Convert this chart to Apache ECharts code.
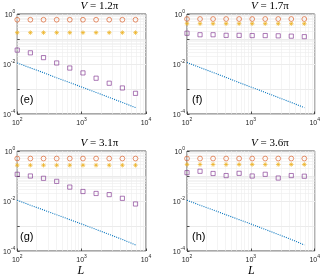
<!DOCTYPE html>
<html><head><meta charset="utf-8">
<script src="https://cdn.jsdelivr.net/npm/echarts@6/dist/echarts.min.js"></script>
<style>html,body{margin:0;padding:0;background:#fff}#c{width:323px;height:275px}</style>
</head><body><div id="c"></div>
<script>
// ---- data ----
const L = [100, 160, 256, 410, 655, 1049, 1678, 2684, 4295, 6872];
const panelLabels = ['(e)', '(f)', '(g)', '(h)'];
const panelV = ['1.2π', '1.7π', '3.1π', '3.6π'];
const xTicks = [100, 1000, 10000];
const yTicks = [1e-4, 1e-2, 1];
const minorX = [200,300,400,500,600,700,800,900,2000,3000,4000,5000,6000,7000,8000,9000];
const minorY = [2e-4,3e-4,4e-4,5e-4,6e-4,7e-4,8e-4,9e-4,2e-3,3e-3,4e-3,5e-3,6e-3,7e-3,8e-3,9e-3,
                2e-2,3e-2,4e-2,5e-2,6e-2,7e-2,8e-2,9e-2,0.2,0.3,0.4,0.5,0.6,0.7,0.8,0.9];

const circE = [0.59, 0.59, 0.59, 0.59, 0.59, 0.59, 0.59, 0.59, 0.59, 0.59];
const starE = [0.18, 0.18, 0.18, 0.18, 0.18, 0.18, 0.18, 0.18, 0.18, 0.18];
const sqE   = [0.036, 0.028, 0.018, 0.011, 6.9e-3, 4.4e-3, 2.7e-3, 1.7e-3, 1.1e-3, 6.7e-4];
const lineE = [1.1e-2, 7e-3, 4.5e-3, 2.8e-3, 1.8e-3, 1.15e-3, 7.3e-4, 4.6e-4, 2.9e-4, 1.8e-4];

const circF = [0.63, 0.63, 0.63, 0.63, 0.63, 0.63, 0.63, 0.63, 0.63, 0.63];
const starF = [0.41, 0.41, 0.41, 0.41, 0.41, 0.41, 0.41, 0.41, 0.41, 0.41];
const sqF   = [0.17, 0.148, 0.148, 0.14, 0.14, 0.137, 0.137, 0.134, 0.13, 0.124];
const lineF = [1.15e-2, 7.2e-3, 4.6e-3, 2.9e-3, 1.8e-3, 1.15e-3, 7.3e-4, 4.6e-4, 2.9e-4, 1.8e-4];

const circG = [0.5, 0.5, 0.5, 0.5, 0.5, 0.5, 0.5, 0.5, 0.5, 0.5];
const starG = [0.27, 0.27, 0.27, 0.27, 0.27, 0.27, 0.27, 0.27, 0.27, 0.27];
const sqG   = [0.117, 0.1, 0.081, 0.061, 0.036, 0.024, 0.02, 0.018, 0.0128, 0.0076];
const lineG = [1.07e-2, 6.8e-3, 4.4e-3, 2.8e-3, 1.8e-3, 1.15e-3, 7.3e-4, 4.6e-4, 2.9e-4, 1.75e-4];

const circH = [0.5, 0.5, 0.5, 0.5, 0.5, 0.5, 0.5, 0.5, 0.5, 0.5];
const starH = [0.29, 0.29, 0.29, 0.29, 0.29, 0.29, 0.29, 0.29, 0.29, 0.29];
const sqH   = [0.136, 0.155, 0.126, 0.104, 0.128, 0.1, 0.117, 0.083, 0.104, 0.098];
const lineH = [1.07e-2, 6.8e-3, 4.4e-3, 2.8e-3, 1.8e-3, 1.15e-3, 7.3e-4, 4.6e-4, 2.9e-4, 1.75e-4];

const panels = [
  {circ: circE, star: starE, sq: sqE, line: lineE},
  {circ: circF, star: starF, sq: sqF, line: lineF},
  {circ: circG, star: starG, sq: sqG, line: lineG},
  {circ: circH, star: starH, sq: sqH, line: lineH}
];

// ---- layout / style ----
const layout = [
  {left: 15, top: 14, width: 131, height: 100},
  {left: 187, top: 14, width: 128, height: 100},
  {left: 15, top: 151, width: 131, height: 100},
  {left: 187, top: 151, width: 128, height: 100}
];
const AX = '#262626';
const C_BLUE = '#0072BD', C_ORANGE = '#D95319', C_YELLOW = '#EDB120', C_PURPLE = '#7E2F8E';
const starPath = 'path://M5,0L5,10M0,5L10,5M1.5,1.5L8.5,8.5M8.5,1.5L1.5,8.5';

const rich = {
  b: {fontSize: 7, fontFamily: 'Liberation Sans', color: AX, lineHeight: 10, verticalAlign: 'bottom'},
  s: {fontSize: 5, fontFamily: 'Liberation Sans', color: AX, lineHeight: 10, verticalAlign: 'top'}
};
function pow10Label(v, onlyEven) {
  const e = Math.round(Math.log10(v));
  if (onlyEven && e % 2 !== 0) return '';
  return '{b|10}{s|' + (e < 0 ? '-' + (-e) : e) + '}';
}

const grid = [], xAxis = [], yAxis = [], series = [], graphic = [];
layout.forEach((g, i) => {
  grid.push({left: g.left, top: g.top, width: g.width, height: g.height, show: true,
    borderColor: AX, borderWidth: 0.8, backgroundColor: '#fff', containLabel: false});
  xAxis.push({type: 'log', logBase: 10, gridIndex: i, min: xTicks[0], max: xTicks[xTicks.length - 1],
    axisLine: {show: false},
    axisTick: {show: true, inside: true, length: 2.5, lineStyle: {color: AX, width: 0.8}},
    axisLabel: {margin: 3, rich, formatter: v => pow10Label(v, false)},
    splitLine: {show: true, lineStyle: {color: '#dedede', width: 0.6}},
    minorTick: {show: false}, minorSplitLine: {show: false}});
  yAxis.push({type: 'log', logBase: 10, gridIndex: i, min: yTicks[0], max: yTicks[yTicks.length - 1],
    axisLine: {show: false},
    axisTick: {show: true, inside: true, length: 2.5, lineStyle: {color: AX, width: 0.8}},
    axisLabel: {margin: 2, rich, formatter: v => pow10Label(v, true)},
    splitLine: {show: true, lineStyle: {color: '#dedede', width: 0.6}}});
  const p = panels[i];
  const mk = [];
  minorX.forEach(v => mk.push({xAxis: v}));
  minorY.forEach(v => mk.push({yAxis: v}));
  series.push({type: 'line', xAxisIndex: i, yAxisIndex: i, data: L.map((x, k) => [x, p.line[k]]),
    showSymbol: false, symbol: 'none', lineStyle: {color: C_BLUE, width: 1.1, type: [1, 1.2]},
    silent: true, animation: false, z: 3,
    markLine: {silent: true, symbol: ['none', 'none'], label: {show: false}, z: 1, animation: false,
      lineStyle: {color: '#ededed', width: 0.6, type: 'solid'}, emphasis: {disabled: true}, data: mk}});
  series.push({type: 'scatter', xAxisIndex: i, yAxisIndex: i, data: L.map((x, k) => [x, p.sq[k]]),
    symbol: 'rect', symbolSize: 4.2, itemStyle: {color: 'transparent', borderColor: C_PURPLE, borderWidth: 0.8},
    silent: true, animation: false, z: 4});
  series.push({type: 'scatter', xAxisIndex: i, yAxisIndex: i, data: L.map((x, k) => [x, p.circ[k]]),
    symbol: 'circle', symbolSize: 4.8, itemStyle: {color: 'transparent', borderColor: C_ORANGE, borderWidth: 0.8},
    silent: true, animation: false, z: 4});
  series.push({type: 'scatter', xAxisIndex: i, yAxisIndex: i, data: L.map((x, k) => [x, p.star[k]]),
    symbol: starPath, symbolSize: 4.5, itemStyle: {color: 'transparent', borderColor: C_YELLOW, borderWidth: 0.9},
    silent: true, animation: false, z: 5});
  const cx = g.left + g.width / 2;
  graphic.push({type: 'text', left: cx, top: g.top - 13, silent: true,
    style: {text: '{i|V} = ' + panelV[i], x: 0, y: 0, align: 'center', verticalAlign: 'top',
      font: '11px "Liberation Serif"', fill: '#000',
      rich: {i: {fontStyle: 'italic', fontFamily: 'Liberation Serif', fontSize: 11}}}});
  graphic.push({type: 'text', left: g.left + 5, top: g.top + 80, silent: true, z: 10,
    style: {text: panelLabels[i], font: '11px "Liberation Sans"', fill: '#000'}});
  if (i >= 2) {
    graphic.push({type: 'text', left: cx - 3, top: g.top + g.height + 14, silent: true,
      style: {text: 'L', font: 'italic 12px "Liberation Serif"', fill: '#000'}});
  }
});

const chart = echarts.init(document.getElementById('c'), null, {renderer: 'canvas'});
chart.setOption({animation: false, backgroundColor: '#fff', grid, xAxis, yAxis, series, graphic});
</script></body></html>
